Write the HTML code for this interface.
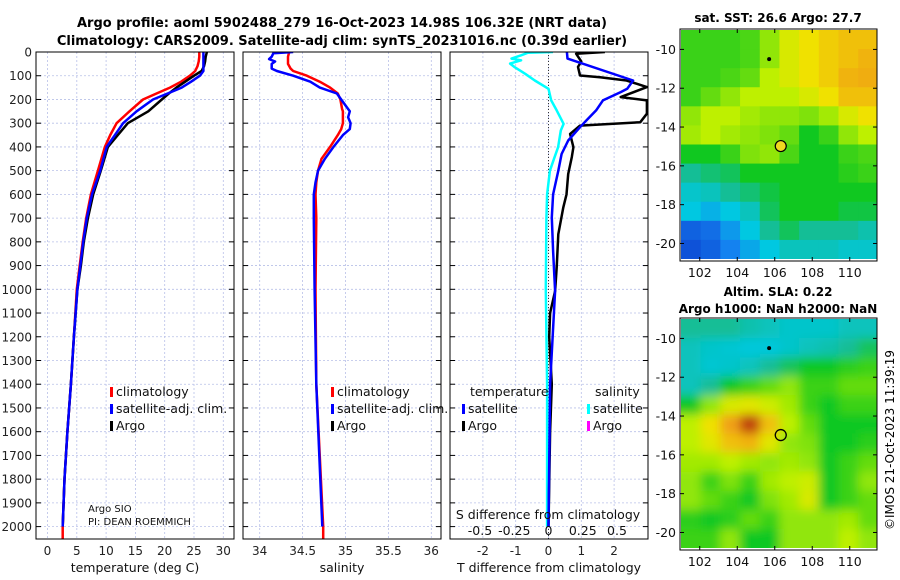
<!DOCTYPE html>
<html><head><meta charset="utf-8"><style>
html,body{margin:0;padding:0;background:#fff}
svg{display:block;font-family:"DejaVu Sans","Liberation Sans",sans-serif}
</style></head><body>
<svg id="fig" width="900" height="580" viewBox="0 0 900 580" xmlns="http://www.w3.org/2000/svg">
<defs>
<clipPath id="c1"><rect x="36" y="52" width="198" height="487"/></clipPath>
<clipPath id="c2"><rect x="243" y="52" width="198" height="487"/></clipPath>
<clipPath id="c3"><rect x="450" y="52" width="198" height="487"/></clipPath>
<filter id="blur"><feGaussianBlur stdDeviation="5"/></filter>
<clipPath id="cm1"><rect x="681" y="30" width="196" height="229"/></clipPath>
<clipPath id="cm2"><rect x="681" y="319" width="196" height="229"/></clipPath>
</defs>
<text x="342" y="27" text-anchor="middle" font-size="13" font-weight="bold">Argo profile: aoml 5902488_279 16-Oct-2023 14.98S 106.32E (NRT data)</text>
<text x="342" y="45" text-anchor="middle" font-size="13" font-weight="bold">Climatology: CARS2009. Satellite-adj clim: synTS_20231016.nc (0.39d earlier)</text>
<text x="778" y="22" text-anchor="middle" font-size="12" font-weight="bold">sat. SST: 26.6 Argo: 27.7</text>
<text x="778" y="296" text-anchor="middle" font-size="12" font-weight="bold">Altim. SLA: 0.22</text>
<text x="778" y="313" text-anchor="middle" font-size="12" font-weight="bold">Argo h1000: NaN h2000: NaN</text>
<text transform="translate(894,440) rotate(-90)" text-anchor="middle" font-size="12">©IMOS 21-Oct-2023 11:39:19</text>
<g id="layer"></g>
</svg>
<script>
// ---- profile data ----
const depthT=[0,20,40,60,80,100,125,150,175,200,250,300,350,400,500,600,700,800,900,1000,1200,1400,1600,1800,2000,2050];
const tClim=[25.9,25.9,25.8,25.6,25.2,24.3,22.8,20.9,18.6,16.3,14.0,11.8,10.7,9.8,8.6,7.4,6.6,6.0,5.5,5.0,4.5,4.0,3.4,2.9,2.6,2.6];
const tSat=[26.6,26.6,26.6,26.6,26.6,26.0,24.5,22.9,20.5,18.0,15.2,12.9,11.5,10.1,9.0,7.6,6.7,6.1,5.6,5.1,4.5,4.0,3.4,2.9,2.6,null];
const tArgo=[27.2,27.0,26.9,26.7,26.3,25.0,23.5,22.0,20.7,19.5,17.2,13.7,12.0,10.3,9.1,7.8,6.9,6.2,5.7,5.1,4.5,4.0,3.4,2.9,2.6,null];
const depthS=[0,5,20,30,40,50,70,80,100,125,150,175,200,240,250,275,300,325,350,400,450,500,550,600,700,1000,1400,2000,2050];
const sClim=[34.35,34.34,34.33,34.33,34.33,34.33,34.36,34.39,34.55,34.70,34.82,34.91,34.94,34.96,34.97,34.97,34.97,34.95,34.91,34.82,34.72,34.68,34.66,34.65,34.66,34.65,34.66,34.74,34.74];
const sSat=[34.39,34.16,34.14,34.11,34.18,34.14,34.14,34.2,34.39,34.59,34.70,34.9,34.95,35.03,35.05,35.03,35.06,35.05,34.97,34.86,34.76,34.68,34.65,34.63,34.63,34.64,34.66,34.73,null];
const depthDS=[0,3,14,28,35,49,63,77,92,120,155,204,246,280,303,331,401,450,500,600,700,1000,1400,2000];
const dsSat=[0.033,-0.15,-0.2,-0.27,-0.2,-0.28,-0.25,-0.21,-0.17,-0.1,0.0,0.02,0.06,0.09,0.11,0.09,0.07,0.04,0.01,-0.01,-0.015,-0.02,-0.01,-0.01];
const depthDT=[0,28,120,155,169,204,246,289,317,373,430,500,600,697,838,1007,1400,2000];
const dtSat=[0.56,0.58,2.58,2.4,2.2,1.66,1.45,1.15,0.96,0.6,0.4,0.3,0.14,0.1,0.14,0.2,0.05,0.0];
const depthDA=[0,7,40,63,99,106,120,148,190,204,260,296,310,345,401,443,514,600,655,768,908,1007,1100,1200,1400,1600,2000];
const dtArgo=[1.72,0.84,1.0,0.9,0.96,1.57,2.38,3.0,2.2,3.0,3.0,2.8,0.96,0.66,0.76,0.71,0.6,0.55,0.45,0.3,0.25,0.2,0.05,0.02,0.1,0.05,0.0];
const depthTicks=[0,100,200,300,400,500,600,700,800,900,1000,1100,1200,1300,1400,1500,1600,1700,1800,1900,2000];
const tTicks=[0,5,10,15,20,25,30];
const sTicks=[34,34.5,35,35.5,36];
const dtTicks=[-2,-1,0,1,2];
const dsTicks=[-0.5,-0.25,0,0.25,0.5];
// ---- map data (rows: north->south, cols: west->east) ----
const sstGrid=[
[.6,.6,.6,.62,.7,.8,.85,.88,.9,.9],
[.6,.6,.6,.62,.7,.8,.85,.88,.9,.92],
[.6,.6,.62,.65,.75,.8,.85,.88,.92,.93],
[.6,.65,.7,.75,.75,.75,.8,.85,.9,.9],
[.7,.75,.75,.72,.7,.7,.68,.72,.8,.85],
[.72,.75,.72,.7,.68,.65,.55,.6,.7,.75],
[.55,.55,.6,.68,.7,.62,.55,.55,.6,.62],
[.45,.48,.5,.55,.55,.55,.55,.55,.58,.6],
[.38,.4,.45,.48,.52,.55,.55,.55,.55,.55],
[.35,.3,.35,.4,.5,.55,.55,.55,.52,.52],
[.12,.15,.25,.35,.45,.5,.45,.45,.45,.42],
[.08,.12,.2,.28,.35,.4,.4,.4,.38,.38]];
const slaGrid=[
[.45,.45,.45,.42,.4,.38,.38,.38,.4,.4],
[.4,.38,.37,.36,.36,.38,.4,.42,.45,.5],
[.4,.37,.38,.4,.45,.5,.55,.55,.58,.6],
[.4,.45,.55,.6,.65,.7,.6,.6,.65,.65],
[.55,.7,.8,.82,.78,.72,.6,.55,.6,.6],
[.75,.85,.95,1,.9,.75,.65,.55,.55,.55],
[.75,.82,.9,.92,.82,.7,.68,.55,.55,.58],
[.72,.72,.75,.72,.7,.72,.7,.55,.6,.65],
[.7,.6,.68,.6,.72,.75,.78,.55,.6,.7],
[.7,.65,.6,.55,.68,.72,.8,.55,.6,.65],
[.58,.55,.58,.65,.6,.7,.7,.7,.72,.65],
[.6,.6,.7,.55,.55,.7,.7,.7,.75,.7]];
const lonTicks=[102,104,106,108,110];
const latTicks=[-10,-12,-14,-16,-18,-20];
const floatPos=[106.32,-14.98];
const floatPrev=[105.7,-10.5];

const NS='http://www.w3.org/2000/svg';
const L=document.getElementById('layer');
function mk(t,a,p){const e=document.createElementNS(NS,t);for(const k in a)e.setAttribute(k,a[k]);(p||L).appendChild(e);return e;}
const yD=d=>52+d*0.2373;
const xT=t=>47.5+t*5.86;
const xS=s=>259.7+(s-34)*85.8;
const xdT=v=>548.5+v*32.8;
const xdS=v=>548.5+v*137;
const panels=[{x:36,clip:'c1',ticks:tTicks,sc:xT,name:'temperature'},{x:243,clip:'c2',ticks:sTicks,sc:xS,name:'salinity'},{x:450,clip:'c3',ticks:dtTicks,sc:xdT,name:'difference'}];
panels.forEach((p,i)=>{
  const g=mk('g',{});
  
  
  mk('rect',{x:p.x,y:52,width:198,height:487,fill:'#fff'},g);
  depthTicks.forEach(d=>{const y=yD(d);
    mk('line',{x1:p.x,x2:p.x+198,y1:y,y2:y,stroke:'#b8c0e8','stroke-width':0.8,'stroke-dasharray':'2,2'},g);
    mk('line',{x1:p.x,x2:p.x+5,y1:y,y2:y,stroke:'#000'},g);
    mk('line',{x1:p.x+193,x2:p.x+198,y1:y,y2:y,stroke:'#000'},g);});
  p.ticks.forEach(t=>{const x=p.sc(t);
    mk('line',{x1:x,x2:x,y1:52,y2:539,stroke:'#b8c0e8','stroke-width':0.8,'stroke-dasharray':'2,2'},g);
    const lb=mk('text',{x:x,y:555,'text-anchor':'middle','font-size':12,fill:'#222'},g);lb.textContent=t;
    
    });
});
depthTicks.forEach(d=>{const lb=mk('text',{x:32,y:yD(d)+4.5,'text-anchor':'end','font-size':12,fill:'#222'});lb.textContent=d;
  
  });
mk('line',{x1:548.5,x2:548.5,y1:52,y2:539,stroke:'#333','stroke-dasharray':'1,2'});
function line(ds,vs,sc,col,clip,name,w){
  const pts=[];ds.forEach((d,i)=>{if(vs[i]!==null)pts.push(sc(vs[i]).toFixed(1)+','+yD(d).toFixed(1));});
  const e=mk('polyline',{points:pts.join(' '),fill:'none',stroke:col,'stroke-width':w||2.5,'stroke-linejoin':'round','clip-path':'url(#'+clip+')'});
  
  
}
line(depthT,tClim,xT,'#f00','c1','temp-climatology-line');
line(depthT,tArgo,xT,'#000','c1','temp-argo-line');
line(depthT,tSat,xT,'#00f','c1','temp-satellite-line');
line(depthS,sClim,xS,'#f00','c2','sal-climatology-line');
line(depthS,sSat,xS,'#00f','c2','sal-satellite-line');
line(depthDS,dsSat,xdS,'#0ff','c3','sal-diff-satellite-line');
line(depthDA,dtArgo,xdT,'#000','c3','temp-diff-argo-line');
line(depthDT,dtSat,xdT,'#00f','c3','temp-diff-satellite-line');
panels.forEach(p=>mk('rect',{x:p.x,y:52,width:198,height:487,fill:'none',stroke:'#000','stroke-width':1}));
function txt(x,y,s,fs,name,anchor){const e=mk('text',{x:x,y:y,'font-size':fs,'text-anchor':anchor||'start',fill:'#111'});e.textContent=s;
  
  return e;}
function leg(x,y,col,s,name){mk('rect',{x:x,y:y-9,width:3,height:10,fill:col});txt(x+6,y,s,12.5,name);}
leg(110,396,'#f00','climatology','legend-climatology');
leg(110,413,'#00f','satellite-adj. clim.','legend-satellite-adj');
leg(110,430,'#000','Argo','legend-argo');
leg(331,396,'#f00','climatology','legend-climatology-2');
leg(331,413,'#00f','satellite-adj. clim.','legend-satellite-adj-2');
leg(331,430,'#000','Argo','legend-argo-2');
txt(470,396,'temperature',12.5,'legend-temperature-heading');
txt(595,396,'salinity',12.5,'legend-salinity-heading');
leg(462,413,'#00f','satellite','legend-temp-satellite');
leg(462,430,'#000','Argo','legend-temp-argo');
leg(587,413,'#0ff','satellite','legend-sal-satellite');
leg(587,430,'#f0f','Argo','legend-sal-argo');
txt(88,512,'Argo SIO',10,'institution-label');
txt(88,525,'PI: DEAN ROEMMICH',10,'pi-label');
txt(548,519,'S difference from climatology',12.5,'s-diff-axis-title','middle');
dsTicks.forEach(v=>txt(xdS(v),535,String(v),12.5,'s-diff-tick','middle'));
txt(135,572,'temperature (deg C)',12.5,'x-axis-title-temperature','middle');
txt(342,572,'salinity',12.5,'x-axis-title-salinity','middle');
txt(549,572,'T difference from climatology',12.5,'x-axis-title-tdiff','middle');
// ---- maps ----
const stops=[[0,[10,50,200]],[.2,[20,130,240]],[.35,[0,200,225]],[.45,[20,190,150]],[.55,[16,200,32]],[.65,[100,220,16]],[.75,[190,240,0]],[.85,[240,225,0]],[.95,[240,160,20]],[1,[192,64,16]]];
function cmap(v){for(let i=1;i<stops.length;i++){if(v<=stops[i][0]){const a=stops[i-1],b=stops[i],f=(v-a[0])/(b[0]-a[0]);return 'rgb('+a[1].map((c,k)=>Math.round(c+(b[1][k]-c)*f)).join(',')+')';}}return 'rgb(192,64,16)';}
function drawMap(grid,top,bottom,latTop,latBot,clip,name,smooth){
  const xL=lon=>681+(lon-101)*18.75;
  const yL=lat=>top+(latTop-lat)*(bottom-top)/(latTop-latBot);
  const g=mk('g',{'clip-path':'url(#'+clip+')'});
  
  
  const inner=mk('g',smooth?{filter:'url(#blur)'}:{},g);
  const nr=grid.length,nc=grid[0].length,dlon=10.5/nc,dlat=(latTop-latBot)/nr;
  grid.forEach((row,r)=>row.forEach((v,c)=>{
    const x0=xL(101+c*dlon),x1=xL(101+(c+1)*dlon),y0=yL(latTop-r*dlat),y1=yL(latTop-(r+1)*dlat);
    const e=mk('rect',{x:x0-(smooth?8:0),y:y0-(smooth?8:0),width:x1-x0+0.5+(smooth?16:0)*(c==0||c==nc-1?1:0),height:y1-y0+0.5+(smooth?16:0)*(r==0||r==nr-1?1:0),fill:cmap(v)},inner);
    if(smooth){e.setAttribute('x',x0-(c==0?16:0));e.setAttribute('y',y0-(r==0?16:0));e.setAttribute('width',x1-x0+0.5+(c==0||c==nc-1?16:0));e.setAttribute('height',y1-y0+0.5+(r==0||r==nr-1?16:0));}
    
    
  }));
  const ax={x:680,y:top-1,w:197,h:bottom-top+3};
  mk('rect',{x:ax.x,y:ax.y,width:ax.w,height:ax.h,fill:'none',stroke:'#000'});
  lonTicks.forEach(l=>{const x=xL(l);mk('line',{x1:x,x2:x,y1:ax.y+ax.h,y2:ax.y+ax.h-4,stroke:'#000'});mk('line',{x1:x,x2:x,y1:ax.y,y2:ax.y+4,stroke:'#000'});
    txt(x,ax.y+ax.h+16,String(l),12.5,'lon-tick-label','middle');});
  latTicks.forEach(l=>{const y=yL(l);mk('line',{x1:877,x2:873,y1:y,y2:y,stroke:'#000'});mk('line',{x1:680,x2:684,y1:y,y2:y,stroke:'#000'});
    txt(676,y+4.5,String(l),12.5,'lat-tick-label','end');});
  const pv=mk('circle',{cx:xL(floatPrev[0]),cy:yL(floatPrev[1]),r:2,fill:'#000'});
  
  
  return {xL,yL};
}
const m1=drawMap(sstGrid,30,259,-9,-20.8,'cm1','sst-map',false);
const c1=mk('circle',{cx:m1.xL(floatPos[0]),cy:m1.yL(floatPos[1]),r:5.5,fill:'#f0d820',stroke:'#000','stroke-width':1.2});


const m2=drawMap(slaGrid,319,548,-9,-20.8,'cm2','sla-map',true);
const c2=mk('circle',{cx:m2.xL(floatPos[0]),cy:m2.yL(floatPos[1]),r:5.5,fill:'none',stroke:'#000','stroke-width':1.3});


</script>
</body></html>
